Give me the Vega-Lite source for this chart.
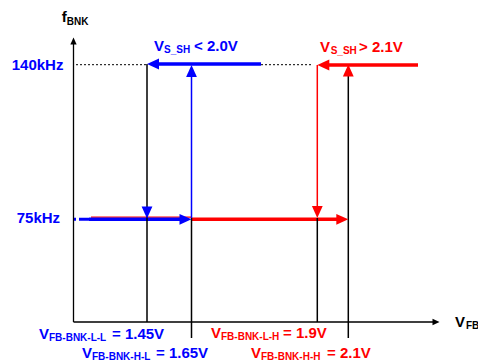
{
  "$schema": "https://vega.github.io/schema/vega-lite/v6.json",
  "width": 478,
  "height": 360,
  "autosize": "none",
  "padding": 0,
  "background": "white",
  "config": {"view": {"stroke": null}},
  "datasets": {
    "segments": [
      {"x": 91, "y": 217.1, "x2": 191.5, "y2": 217.1, "group": "high", "kind": "underlay"},
      {"x": 89, "y": 219.3, "x2": 183, "y2": 219.3, "group": "low", "kind": "trace"},
      {"x": 74, "y": 219.3, "x2": 89, "y2": 219.3, "group": "low", "kind": "lead"},
      {"x": 191.5, "y": 219.3, "x2": 338, "y2": 219.3, "group": "high", "kind": "trace"},
      {"x": 155, "y": 64, "x2": 261, "y2": 64, "group": "low", "kind": "trace"},
      {"x": 325, "y": 65, "x2": 418, "y2": 65, "group": "high", "kind": "trace"},
      {"x": 147, "y": 64, "x2": 147, "y2": 322, "group": "axis", "kind": "guide"},
      {"x": 191.5, "y": 218, "x2": 191.5, "y2": 338, "group": "axis", "kind": "guide"},
      {"x": 191.5, "y": 74, "x2": 191.5, "y2": 218, "group": "low", "kind": "guide"},
      {"x": 317.3, "y": 65, "x2": 317.3, "y2": 210, "group": "high", "kind": "guide"},
      {"x": 317.3, "y": 218, "x2": 317.3, "y2": 322, "group": "axis", "kind": "guide"},
      {"x": 348.3, "y": 74, "x2": 348.3, "y2": 338, "group": "axis", "kind": "guide"},
      {"x": 73.5, "y": 322, "x2": 73.5, "y2": 42, "group": "axis", "kind": "axis"},
      {"x": 73.5, "y": 322, "x2": 434, "y2": 322, "group": "axis", "kind": "axis"},
      {"x": 76, "y": 64.7, "x2": 146, "y2": 64.7, "group": "axis", "kind": "dotted"},
      {"x": 261, "y": 64.7, "x2": 311, "y2": 64.7, "group": "axis", "kind": "dotted"}
    ],
    "heads": [
      {"x": 147, "y": 64, "dir": "left", "group": "low", "kind": "big"},
      {"x": 191.5, "y": 65, "dir": "up", "group": "low", "kind": "big"},
      {"x": 147, "y": 218.5, "dir": "down", "group": "low", "kind": "big"},
      {"x": 191.5, "y": 219.3, "dir": "right", "group": "low", "kind": "big"},
      {"x": 317.3, "y": 65, "dir": "left", "group": "high", "kind": "big"},
      {"x": 348.3, "y": 64.5, "dir": "up", "group": "high", "kind": "big"},
      {"x": 317.3, "y": 218, "dir": "down", "group": "high", "kind": "big"},
      {"x": 348.3, "y": 219.3, "dir": "right", "group": "high", "kind": "big"},
      {"x": 73.5, "y": 37.5, "dir": "up", "group": "axis", "kind": "small"},
      {"x": 439.5, "y": 322, "dir": "right", "group": "axis", "kind": "small"}
    ],
    "labels": [
      {"x": 61.7, "y": 22, "text": "f", "group": "axis", "part": "main"},
      {"x": 66.7, "y": 24.5, "text": "BNK", "group": "axis", "part": "sub"},
      {"x": 455, "y": 327.4, "text": "V", "group": "axis", "part": "main"},
      {"x": 466, "y": 329.3, "text": "FB", "group": "axis", "part": "sub"},
      {"x": 11.7, "y": 69.5, "text": "140kHz", "group": "low", "part": "main"},
      {"x": 16.7, "y": 223, "text": "75kHz", "group": "low", "part": "main"},
      {"x": 154, "y": 51, "text": "V", "group": "low", "part": "main"},
      {"x": 164, "y": 53, "text": "S_SH", "group": "low", "part": "sub"},
      {"x": 194, "y": 51, "text": "< 2.0V", "group": "low", "part": "main"},
      {"x": 320, "y": 52, "text": "V", "group": "high", "part": "main"},
      {"x": 330.7, "y": 54, "text": "S_SH", "group": "high", "part": "sub"},
      {"x": 359, "y": 52, "text": "> 2.1V", "group": "high", "part": "main"},
      {"x": 39, "y": 338.5, "text": "V", "group": "low", "part": "main"},
      {"x": 49, "y": 340.5, "text": "FB-BNK-L-L", "group": "low", "part": "sub"},
      {"x": 112, "y": 338.5, "text": "= 1.45V", "group": "low", "part": "main"},
      {"x": 82, "y": 358, "text": "V", "group": "low", "part": "main"},
      {"x": 92, "y": 360, "text": "FB-BNK-H-L", "group": "low", "part": "sub"},
      {"x": 156, "y": 358, "text": "= 1.65V", "group": "low", "part": "main"},
      {"x": 211, "y": 338, "text": "V", "group": "high", "part": "main"},
      {"x": 221, "y": 340, "text": "FB-BNK-L-H", "group": "high", "part": "sub"},
      {"x": 283, "y": 338, "text": "= 1.9V", "group": "high", "part": "main"},
      {"x": 251, "y": 357.5, "text": "V", "group": "high", "part": "main"},
      {"x": 261, "y": 359.5, "text": "FB-BNK-H-H", "group": "high", "part": "sub"},
      {"x": 327, "y": 357.5, "text": "= 2.1V", "group": "high", "part": "main"}
    ]
  },
  "layer": [
    {
      "data": {"name": "segments"},
      "mark": {"type": "rule"},
      "encoding": {
        "x": {"field": "x", "type": "quantitative", "scale": {"domain": [0, 478], "nice": false, "zero": false}, "axis": null},
        "y": {"field": "y", "type": "quantitative", "scale": {"domain": [0, 360], "nice": false, "zero": false, "reverse": true}, "axis": null},
        "x2": {"field": "x2"},
        "y2": {"field": "y2"},
        "color": {"field": "group", "type": "nominal", "scale": {"domain": ["low", "high", "axis"], "range": ["#0000ff", "#ff0000", "#000000"]}, "legend": null},
        "strokeWidth": {"field": "kind", "type": "nominal", "scale": {"type": "ordinal", "domain": ["axis", "guide", "dotted", "trace", "underlay", "lead"], "range": [1.3, 1.5, 1, 3.6, 1.3, 3]}, "legend": null},
        "strokeDash": {"field": "kind", "type": "nominal", "scale": {"domain": ["axis", "guide", "dotted", "trace", "underlay", "lead"], "range": [[1, 0], [1, 0], [2, 2], [1, 0], [1, 0], [2, 3, 10, 2]]}, "legend": null}
      }
    },
    {
      "data": {"name": "heads"},
      "mark": {"type": "point", "filled": true, "opacity": 1, "strokeWidth": 0},
      "encoding": {
        "x": {"field": "x", "type": "quantitative"},
        "y": {"field": "y", "type": "quantitative"},
        "color": {"field": "group", "type": "nominal", "legend": null},
        "shape": {"field": "dir", "type": "nominal", "scale": {"domain": ["left", "right", "up", "down"], "range": ["M0,0L2,-0.9L2,0.9Z", "M0,0L-2,-0.9L-2,0.9Z", "M0,0L-0.9,2L0.9,2Z", "M0,0L-0.9,-2L0.9,-2Z"]}, "legend": null},
        "size": {"field": "kind", "type": "nominal", "scale": {"type": "ordinal", "domain": ["big", "small"], "range": [144, 49]}, "legend": null}
      }
    },
    {
      "data": {"name": "labels"},
      "mark": {"type": "text", "align": "left", "baseline": "alphabetic", "font": "Liberation Sans", "fontWeight": "bold"},
      "encoding": {
        "x": {"field": "x", "type": "quantitative"},
        "y": {"field": "y", "type": "quantitative"},
        "text": {"field": "text"},
        "color": {"field": "group", "type": "nominal", "legend": null},
        "size": {"field": "part", "type": "nominal", "scale": {"type": "ordinal", "domain": ["main", "sub"], "range": [15, 10]}, "legend": null}
      }
    }
  ],
  "resolve": {"scale": {"size": "independent"}}
}
